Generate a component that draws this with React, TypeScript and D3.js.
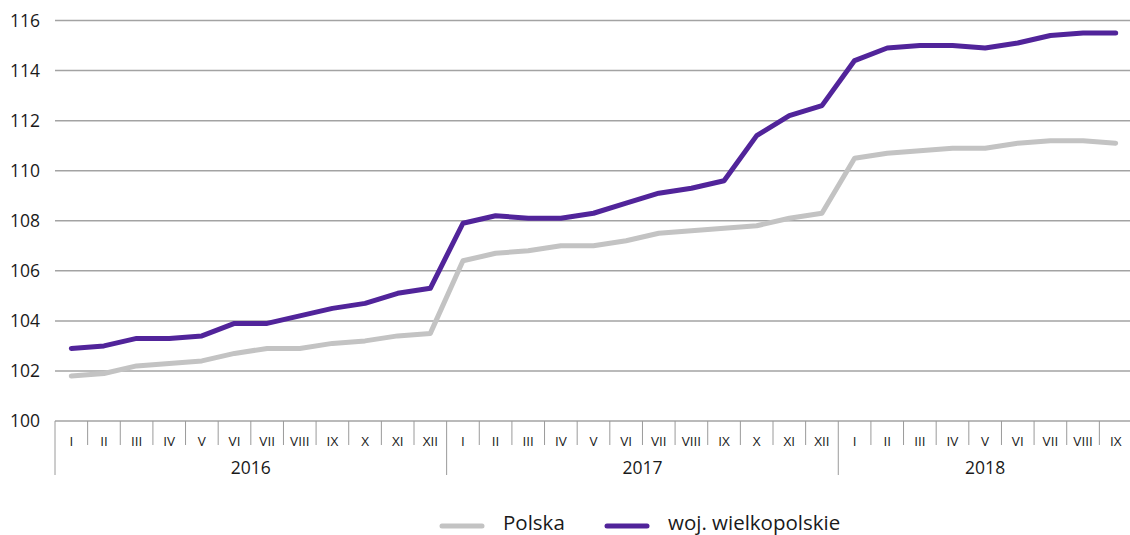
import React from "react";
import * as d3 from "d3";

const years = ["2016", "2017", "2018"];
const monthsPerYear = [12, 12, 9];
const monthLabels = ["I", "II", "III", "IV", "V", "VI", "VII", "VIII", "IX", "X", "XI", "XII"];
const yTicks = [100, 102, 104, 106, 108, 110, 112, 114, 116];

const polska = [
  101.8, 101.9, 102.2, 102.3, 102.4, 102.7, 102.9, 102.9, 103.1, 103.2, 103.4, 103.5,
  106.4, 106.7, 106.8, 107.0, 107.0, 107.2, 107.5, 107.6, 107.7, 107.8, 108.1, 108.3,
  110.5, 110.7, 110.8, 110.9, 110.9, 111.1, 111.2, 111.2, 111.1,
];
const wielkopolskie = [
  102.9, 103.0, 103.3, 103.3, 103.4, 103.9, 103.9, 104.2, 104.5, 104.7, 105.1, 105.3,
  107.9, 108.2, 108.1, 108.1, 108.3, 108.7, 109.1, 109.3, 109.6, 111.4, 112.2, 112.6,
  114.4, 114.9, 115.0, 115.0, 114.9, 115.1, 115.4, 115.5, 115.5,
];

const seriesNames = ["Polska", "woj. wielkopolskie"];
const seriesColors = ["#c3c3c3", "#51249a"];

const categories: { key: string; year: string; month: string }[] = [];
years.forEach((y, yi) => {
  for (let m = 0; m < monthsPerYear[yi]; m++) {
    categories.push({ key: `${y}-${m}`, year: y, month: monthLabels[m] });
  }
});

export default function App() {
  const W = 1130;
  const H = 535;
  const left = 55;
  const right = 1132;
  const x = d3.scaleBand<string>().domain(categories.map((c) => c.key)).range([left, right]).padding(0);
  const y = d3.scaleLinear().domain([100, 116]).range([421, 20.5]);
  const bw = x.bandwidth();
  const font = "'Open Sans', 'Noto Sans', sans-serif";
  const line = d3
    .line<number>()
    .x((_, i) => (x(categories[i].key) as number) + bw / 2)
    .y((d) => y(d));
  const series = [polska, wielkopolskie];

  const yearGroups: { year: string; start: number; end: number }[] = [];
  let idx = 0;
  years.forEach((yr, yi) => {
    const s = x(categories[idx].key) as number;
    const e = (x(categories[idx + monthsPerYear[yi] - 1].key) as number) + bw;
    yearGroups.push({ year: yr, start: s, end: e });
    idx += monthsPerYear[yi];
  });

  return (
    <svg
      width={W}
      height={H}
      style={{ position: "absolute", left: 0, top: 0, background: "#fff" }}
      fontFamily={font}
    >
      <rect x={0} y={0} width={W} height={H} fill="#fff" />
      {yTicks.map((t) => (
        <g key={t}>
          <line x1={left} x2={W} y1={y(t)} y2={y(t)} stroke="#a3a3a3" strokeWidth={1.5} />
          <text x={40} y={y(t)} dy="0.35em" textAnchor="end" fontSize={17.5} fill="#1a1a1a">
            {t}
          </text>
        </g>
      ))}
      {categories.map((c) => {
        const bx = x(c.key) as number;
        const isYearStart = c.month === "I";
        return (
          <g key={c.key}>
            {!isYearStart && (
              <line x1={bx} x2={bx} y1={y(100)} y2={445} stroke="#9a9a9a" strokeWidth={1} />
            )}
            <text x={bx + bw / 2} y={441} dy="0.35em" textAnchor="middle" fontSize={13.5} fill="#1a1a1a">
              {c.month}
            </text>
          </g>
        );
      })}
      {yearGroups.map((g) => (
        <g key={g.year}>
          <line x1={g.start} x2={g.start} y1={y(100)} y2={475} stroke="#9a9a9a" strokeWidth={1} />
          <text x={(g.start + g.end) / 2} y={468} dy="0.35em" textAnchor="middle" fontSize={17.5} fill="#1a1a1a">
            {g.year}
          </text>
        </g>
      ))}
      {series.map((s, i) => (
        <path
          key={seriesNames[i]}
          d={line(s) as string}
          fill="none"
          stroke={seriesColors[i]}
          strokeWidth={5}
          strokeLinecap="round"
          strokeLinejoin="round"
        />
      ))}
      <g>
        <line x1={442} x2={482} y1={526} y2={526} stroke={seriesColors[0]} strokeWidth={5} strokeLinecap="round" />
        <text x={503} y={530} fontSize={20.5} fill="#1a1a1a">
          {seriesNames[0]}
        </text>
        <line x1={607} x2={647} y1={526} y2={526} stroke={seriesColors[1]} strokeWidth={5} strokeLinecap="round" />
        <text x={668} y={530} fontSize={20.5} fill="#1a1a1a">
          {seriesNames[1]}
        </text>
      </g>
    </svg>
  );
}
